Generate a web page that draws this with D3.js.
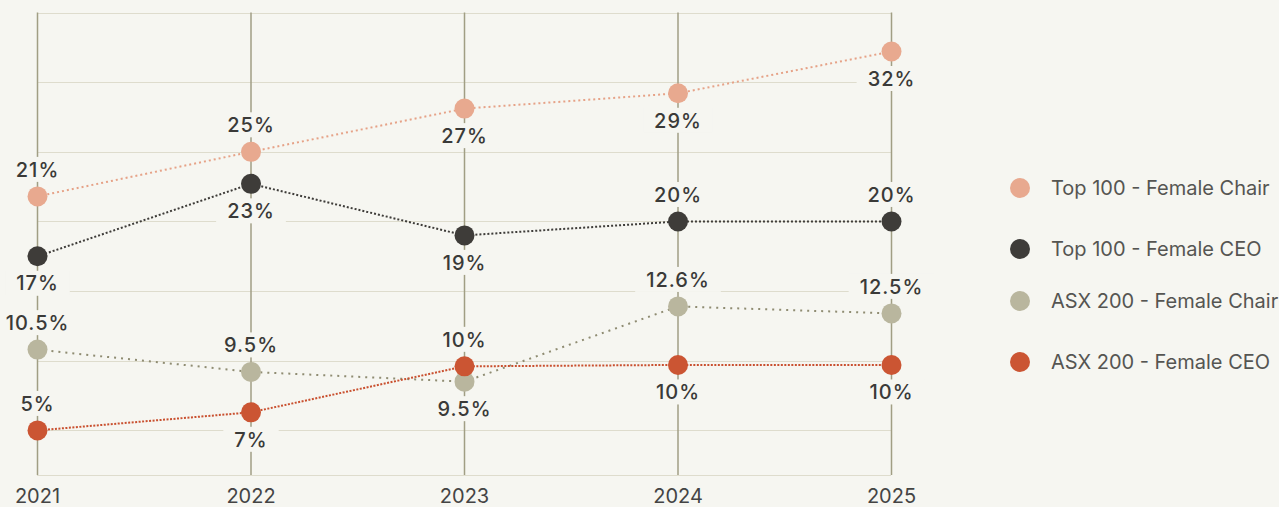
<!DOCTYPE html>
<html>
<head>
<meta charset="utf-8">
<script src="https://cdn.jsdelivr.net/npm/d3@7"></script>
<style>
  html, body { margin: 0; padding: 0; background: #f6f6f1; }
  svg { display: block; font-family: Inter, "Noto Sans", sans-serif; }
</style>
</head>
<body>
<svg id="chart" width="1279" height="507"></svg>
<script>
// data
const years = ["2021", "2022", "2023", "2024", "2025"];
const seriesNames = ["Top 100 - Female Chair", "Top 100 - Female CEO", "ASX 200 - Female Chair", "ASX 200 - Female CEO"];
const top100Chair = [21.8, 25.0, 28.1, 29.2, 32.2];
const top100Ceo = [17.5, 22.7, 19.0, 20.0, 20.0];
const asxChair = [10.8, 9.2, 8.5, 13.9, 13.4];
const asxCeo = [5.0, 6.3, 9.6, 9.7, 9.7];
const top100ChairLabels = ["21%", "25%", "27%", "29%", "32%"];
const top100CeoLabels = ["17%", "23%", "19%", "20%", "20%"];
const asxChairLabels = ["10.5%", "9.5%", "9.5%", "12.6%", "12.5%"];
const asxCeoLabels = ["5%", "7%", "10%", "10%", "10%"];
const gridTicks = [5, 10, 15, 20, 25, 30, 35];

// label side: 1 = above the point, -1 = below
const top100ChairSide = [1, 1, -1, -1, -1];
const top100CeoSide = [-1, -1, -1, 1, 1];
const asxChairSide = [1, 1, -1, 1, 1];
const asxCeoSide = [1, -1, 1, -1, -1];

const colors = ["#e8a98f", "#3e3c39", "#b9b69e", "#cb5533"];
const lineColors = ["#e6a287", "#3e3c39", "#8f8c72", "#c9502f"];
const lineDash = ["2,3", "2,2", "2,5", "2,1.5"];

const series = [
  { name: seriesNames[0], values: top100Chair, labels: top100ChairLabels, side: top100ChairSide },
  { name: seriesNames[1], values: top100Ceo, labels: top100CeoLabels, side: top100CeoSide },
  { name: seriesNames[2], values: asxChair, labels: asxChairLabels, side: asxChairSide },
  { name: seriesNames[3], values: asxCeo, labels: asxCeoLabels, side: asxCeoSide }
];

const svg = d3.select("#chart");
const bg = "#f6f6f1";

const x = d3.scalePoint().domain(years).range([37.5, 891.5]);
const y = d3.scaleLinear().domain([1.8, 35]).range([475, 12.5]);

// horizontal dotted grid
svg.append("g").selectAll("line")
  .data(gridTicks)
  .join("line")
  .attr("x1", x(years[0]))
  .attr("x2", x(years[years.length - 1]))
  .attr("y1", d => Math.round(y(d)) + 0.5)
  .attr("y2", d => Math.round(y(d)) + 0.5)
  .style("stroke", "#c6c3a8")
  .style("stroke-width", 1)
  .style("stroke-dasharray", "1,1");

// bottom line
svg.append("line")
  .attr("x1", x(years[0]))
  .attr("x2", x(years[years.length - 1]))
  .attr("y1", y.range()[0] + 0.5)
  .attr("y2", y.range()[0] + 0.5)
  .style("stroke", "#c6c3a8")
  .style("stroke-dasharray", "1,1");

// vertical year lines
svg.append("g").selectAll("line")
  .data(years)
  .join("line")
  .attr("x1", d => x(d))
  .attr("x2", d => x(d))
  .attr("y1", y(35))
  .attr("y2", y.range()[0])
  .style("stroke", "#a19e84")
  .style("stroke-width", 1.5);

// year labels
svg.append("g").selectAll("text")
  .data(years)
  .join("text")
  .attr("x", d => x(d))
  .attr("y", 503)
  .attr("text-anchor", "middle")
  .style("font-size", "20px")
  .style("fill", "#444")
  .text(d => d);

// value labels with a background box that breaks the grid
const labelLayer = svg.append("g");
series.forEach(s => {
  s.values.forEach((v, i) => {
    const cy = y(v) - s.side[i] * 27;
    const g = labelLayer.append("g").attr("transform", `translate(${x(years[i])},${cy})`);
    const t = g.append("text")
      .attr("text-anchor", "middle")
      .attr("dy", "0.36em")
      .style("font-size", "20px")
      .style("font-weight", 500)
      .style("letter-spacing", "1px")
      .style("fill", "#3a3a38")
      .text(s.labels[i]);
    const w = t.node().getComputedTextLength();
    g.insert("rect", "text")
      .attr("x", -w / 2 - 11)
      .attr("y", -12.5)
      .attr("width", w + 22)
      .attr("height", 25)
      .style("fill", bg);
  });
});

// lines
const line = d3.line()
  .x((d, i) => x(years[i]))
  .y(d => y(d));

svg.append("g").selectAll("path")
  .data(series)
  .join("path")
  .attr("d", d => line(d.values))
  .style("fill", "none")
  .style("stroke", (d, i) => lineColors[i])
  .style("stroke-width", 2)
  .style("stroke-dasharray", (d, i) => lineDash[i]);

// points
series.forEach((s, k) => {
  svg.append("g").selectAll("circle")
    .data(s.values)
    .join("circle")
    .attr("cx", (d, i) => x(years[i]))
    .attr("cy", d => y(d))
    .attr("r", 10)
    .style("fill", colors[k]);
});

// legend
const legendY = [188, 249, 301, 362];
const legend = svg.append("g").attr("transform", "translate(1020,0)");
series.forEach((s, k) => {
  legend.append("circle")
    .attr("cx", 0)
    .attr("cy", legendY[k])
    .attr("r", 10)
    .style("fill", colors[k]);
  legend.append("text")
    .attr("x", 31)
    .attr("y", legendY[k])
    .attr("dy", "0.36em")
    .style("font-size", "20px")
    .style("fill", "#555552")
    .text(s.name);
});
</script>
</body>
</html>
